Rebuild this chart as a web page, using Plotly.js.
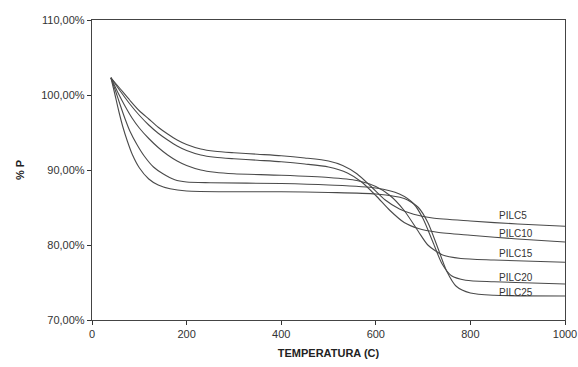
<!DOCTYPE html>
<html>
<head>
<meta charset="utf-8">
<script src="https://cdn.plot.ly/plotly-3.0.1.min.js"></script>
<style>html,body{margin:0;padding:0;background:#fff;}#chart{width:578px;height:367px;}</style>
</head>
<body>
<div id="chart"></div>
<script>
const seriesNames = ["PILC5", "PILC10", "PILC15", "PILC20", "PILC25"];

const pilc5T = [40,60,80,100,120,140,160,180,200,230,260,300,350,400,450,500,530,560,590,620,650,680,720,800,900,1000];
const pilc5P = [102.3,100.8,99.3,97.9,96.8,95.7,94.8,94.0,93.4,92.8,92.5,92.3,92.1,91.9,91.6,91.2,90.6,89.5,87.8,86.0,84.8,84.1,83.6,83.2,82.8,82.5];

const pilc10T = [40,60,80,100,120,140,160,180,200,230,260,300,350,400,450,500,540,570,600,630,660,690,730,800,900,1000];
const pilc10P = [102.3,100.5,98.8,97.3,96.0,94.9,94.0,93.2,92.6,92.0,91.7,91.5,91.3,91.1,90.8,90.4,89.6,88.4,86.6,84.6,83.0,82.2,81.7,81.3,80.8,80.4];

const pilc15T = [40,55,70,85,100,120,140,160,180,200,230,260,300,400,500,560,600,630,660,690,710,740,780,850,1000];
const pilc15P = [102.3,100.3,98.5,96.9,95.6,94.2,93.0,92.0,91.2,90.6,90.0,89.7,89.5,89.3,89.0,88.6,87.8,86.6,84.6,81.8,80.0,78.7,78.2,78.0,77.7];

const pilc20T = [40,50,60,70,80,95,110,130,150,175,200,250,400,500,600,650,680,700,720,740,760,790,850,1000];
const pilc20P = [102.3,100.5,98.6,96.8,95.2,93.4,91.9,90.4,89.5,88.7,88.4,88.3,88.2,88.0,87.6,86.8,85.5,83.5,80.5,77.5,75.9,75.3,75.1,74.8];

const pilc25T = [40,48,56,65,75,85,100,120,140,165,200,300,400,500,600,660,690,710,730,750,770,800,850,1000];
const pilc25P = [102.3,100.2,98.0,95.8,93.8,92.1,90.3,88.8,88.0,87.5,87.2,87.1,87.1,87.0,86.8,86.2,85.0,83.0,79.8,76.5,74.5,73.6,73.3,73.2];

const labelT = [856, 856, 856, 856, 856];
const labelP = [83.9, 81.6, 78.9, 75.7, 73.7];

const yTickVals = [70, 80, 90, 100, 110];
const yTickText = ["70,00%", "80,00%", "90,00%", "100,00%", "110,00%"];
const xTickVals = [0, 200, 400, 600, 800, 1000];

const allT = [pilc5T, pilc10T, pilc15T, pilc20T, pilc25T];
const allP = [pilc5P, pilc10P, pilc15P, pilc20P, pilc25P];

const traces = seriesNames.map((n, i) => ({
  x: allT[i], y: allP[i], name: n, type: 'scatter', mode: 'lines',
  line: {color: '#4a4a4a', width: 1.1, shape: 'spline', smoothing: 0.7},
  hoverinfo: 'skip', showlegend: false
}));

const annotations = seriesNames.map((n, i) => ({
  x: labelT[i], y: labelP[i], xref: 'x', yref: 'y', text: n,
  showarrow: false, xanchor: 'left', yanchor: 'middle',
  font: {family: 'Liberation Sans, Arial, sans-serif', size: 10, color: '#333'}
}));

const layout = {
  width: 578, height: 367,
  margin: {l: 92, r: 13, t: 20, b: 47},
  paper_bgcolor: '#fff', plot_bgcolor: '#fff',
  font: {family: 'Liberation Sans, Arial, sans-serif', size: 11, color: '#333'},
  xaxis: {
    range: [0, 1000], tickvals: xTickVals, ticks: 'outside', ticklen: 4,
    tickcolor: '#333', showline: true, linecolor: '#444', linewidth: 1.2,
    mirror: true, showgrid: false, zeroline: false,
    tickfont: {size: 11, color: '#333'},
    title: {text: 'TEMPERATURA (C)', standoff: 9,
      font: {size: 11, color: '#222', family: 'Liberation Sans, Arial, sans-serif', weight: 'bold'}}
  },
  yaxis: {
    range: [70, 110], tickvals: yTickVals, ticktext: yTickText, ticks: 'outside', ticklen: 4,
    tickcolor: '#333', showline: true, linecolor: '#444', linewidth: 1.2,
    mirror: true, showgrid: false, zeroline: false,
    tickfont: {size: 11, color: '#333'},
    title: {text: '% P', standoff: 14,
      font: {size: 11, color: '#222', family: 'Liberation Sans, Arial, sans-serif', weight: 'bold'}}
  },
  annotations: annotations
};

Plotly.newPlot('chart', traces, layout, {staticPlot: true, displayModeBar: false});
</script>
</body>
</html>
